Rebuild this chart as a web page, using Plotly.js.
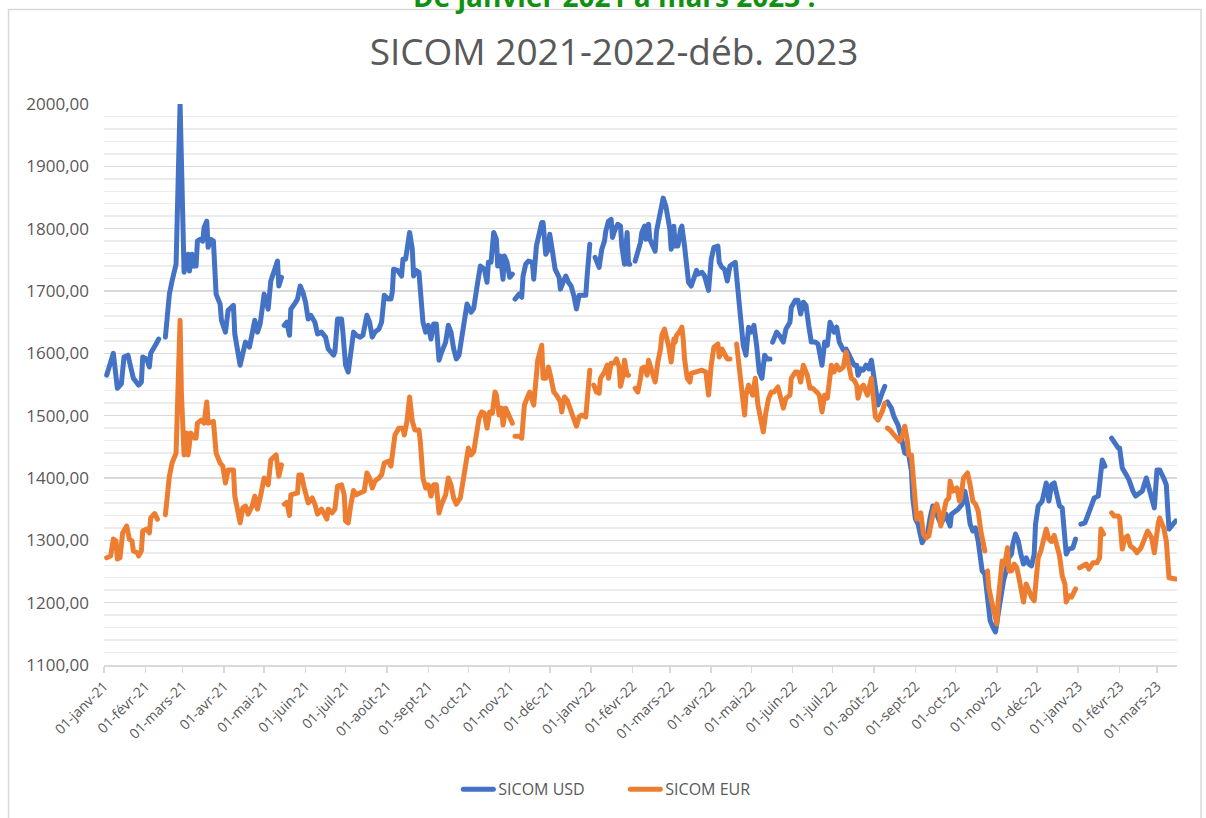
<!DOCTYPE html>
<html><head><meta charset="utf-8">
<script src="https://cdn.plot.ly/plotly-3.0.1.min.js"></script>
<style>html,body{margin:0;padding:0;background:#fff;} #chart{width:1206px;height:818px;} .js-line{stroke-linejoin:round;stroke-linecap:round;}</style>
</head><body><div id="chart"></div>
<script>
// Day offsets are counted from 2021-01-01; null = missing quote (gap in the line)
const startDate = [2021, 0, 1];

const usdSeries = [
[2,1565],[7,1600],[10,1544],[13,1551],[15,1594],[18,1597],[20,1578],[22,1560],[26,1549],[28,1554],[29,1594],[32,1591],[34,1578],[35,1600],[39,1615],[41,1623],[43,null],
[46,1626],[49,1695],[51,1716],[54,1743],[57,2000],[58,1880],[60,1730],[63,1759],[64,1732],[66,1759],[67,1740],[69,1740],[70,1780],[72,1783],[74,1780],[75,1802],[77,1812],[78,1770],[80,1783],[82,1780],[84,1695],[87,1679],[88,1653],[91,1634],[93,1669],[97,1677],[98,1631],[102,1581],[104,1605],[106,1618],[109,1610],[111,1631],[113,1653],[115,1634],[117,1647],[120,1695],[123,1671],[125,1716],[130,1748],[131,1708],[133,1722],[134,null],
[135,1645],[137,1650],[139,1629],[140,1671],[143,1680],[145,1687],[147,1708],[149,1698],[151,1682],[153,1655],[155,1661],[158,1650],[160,1631],[163,1634],[166,1626],[168,1607],[172,1597],[173,1602],[175,1655],[178,1655],[179,1634],[181,1581],[183,1570],[185,1597],[187,1634],[189,1629],[192,1626],[194,1629],[197,1661],[199,1650],[201,1626],[203,1634],[206,1639],[208,1650],[210,1693],[213,1687],[215,1687],[216,1698],[217,1735],[220,1733],[223,1724],[224,1751],[226,1751],[229,1794],[231,1767],[232,1724],[234,1733],[236,1730],[237,1708],[239,1650],[241,1634],[243,1645],[245,1623],[247,1647],[249,1647],[251,1589],[253,1602],[256,1618],[258,1645],[260,1634],[262,1607],[264,1591],[266,1597],[268,1629],[270,1661],[272,1679],[275,1666],[277,1672],[280,1714],[282,1740],[285,1735],[287,1714],[288,1746],[290,1746],[292,1794],[294,1783],[295,1740],[297,1756],[299,1719],[300,1756],[302,1746],[304,1722],[306,1727],[307,null],
[308,1687],[311,1695],[313,1690],[314,1724],[316,1743],[318,1748],[321,1746],[322,1719],[324,1772],[326,1794],[328,1810],[329,1810],[331,1759],[333,1767],[334,1791],[336,1764],[338,1735],[341,1722],[342,1703],[344,1714],[346,1724],[348,1714],[350,1708],[352,1693],[354,1671],[356,1693],[358,1693],[361,1693],[362,1724],[364,1775],[365,null],
[368,1754],[370,1746],[371,1738],[373,1767],[375,1780],[376,1796],[378,1812],[380,1815],[381,1786],[383,1799],[385,1807],[387,1804],[388,1772],[390,1743],[392,1794],[393,1743],[394,1743],[396,null],
[398,1748],[400,1762],[402,1778],[403,1794],[405,1804],[406,1783],[408,1807],[409,1783],[411,1775],[413,1764],[414,1796],[416,1815],[418,1836],[419,1849],[421,1836],[422,1820],[424,1799],[425,1767],[427,1804],[428,1772],[430,1772],[432,1799],[433,1804],[435,1772],[436,1746],[438,1714],[440,1708],[442,1724],[444,1733],[445,1727],[448,1730],[450,1724],[453,1701],[455,1751],[457,1770],[460,1772],[461,1746],[463,1738],[465,1735],[467,1716],[469,1740],[473,1746],[475,1703],[477,1650],[479,1613],[481,1597],[483,1642],[485,1634],[487,1645],[489,1613],[491,1570],[493,1560],[495,1597],[497,1591],[499,1591],[500,null],
[501,1618],[504,1634],[506,1629],[509,1618],[511,1639],[514,1650],[515,1674],[518,1685],[520,1685],[522,1663],[524,1682],[526,1677],[528,1645],[530,1618],[533,1618],[535,1615],[538,1581],[540,1618],[542,1613],[544,1650],[545,1645],[547,1634],[549,1642],[551,1618],[554,1605],[556,1607],[558,1599],[560,1591],[562,1581],[564,1581],[565,1565],[567,1575],[569,1573],[571,1581],[573,1575],[575,1589],[577,1560],[579,1530],[580,1517],[583,1536],[585,1547],[586,null],
[587,1522],[590,1512],[592,1498],[595,1485],[597,1469],[600,1440],[603,1437],[605,1411],[606,1368],[608,1334],[610,1326],[611,1315],[613,1296],[615,1304],[617,1310],[619,1336],[621,1355],[623,1347],[625,1334],[627,1326],[629,1334],[631,1342],[632,1334],[634,1323],[635,1342],[638,1347],[640,1350],[643,1358],[645,1379],[647,1358],[649,1326],[651,1315],[653,1320],[655,1299],[656,1278],[658,1251],[660,1246],[661,1230],[663,1198],[664,1171],[666,1161],[668,1153],[670,1182],[672,1214],[674,1235],[676,1251],[678,1272],[680,1278],[681,1294],[683,1310],[685,1299],[687,1278],[689,1262],[691,1272],[693,1262],[695,1259],[697,1278],[698,1326],[700,1355],[703,1363],[705,1379],[706,1392],[708,1363],[710,1389],[712,1392],[714,1370],[716,1355],[718,1352],[719,1320],[721,1278],[723,1286],[726,1288],[728,1302],[730,null],
[732,1326],[735,1328],[737,1339],[740,1358],[742,1368],[745,1371],[747,1411],[748,1429],[750,1419],[752,null],
[755,1464],[757,1456],[760,1448],[761,1448],[763,1416],[766,1405],[768,1397],[771,1379],[773,1371],[776,1376],[778,1379],[781,1400],[783,1384],[786,1358],[787,1352],[789,1413],[791,1413],[794,1400],[796,1389],[797,1352],[798,1318],[801,1326],[803,1331]
];

const eurSeries = [
[2,1272],[5,1275],[7,1302],[9,1299],[10,1270],[12,1272],[14,1312],[17,1323],[19,1302],[21,1299],[22,1283],[25,1280],[26,1275],[28,1283],[29,1315],[32,1318],[34,1312],[35,1336],[38,1343],[40,1334],[43,null],
[46,1341],[49,1403],[51,1424],[54,1440],[57,1653],[58,1536],[60,1437],[62,1472],[63,1437],[65,1472],[68,1464],[69,1464],[70,1488],[73,1493],[75,1488],[77,1522],[78,1488],[82,1491],[84,1440],[87,1424],[89,1419],[91,1392],[93,1413],[97,1413],[98,1371],[102,1328],[104,1352],[106,1355],[108,1342],[111,1355],[113,1371],[115,1350],[117,1368],[120,1400],[123,1389],[125,1429],[129,1437],[131,1403],[133,1421],[134,null],
[135,1358],[137,1361],[139,1340],[140,1373],[143,1375],[145,1376],[146,1405],[148,1405],[150,1384],[151,1376],[153,1360],[156,1368],[158,1358],[160,1342],[163,1350],[165,1342],[167,1334],[168,1350],[171,1344],[173,1350],[175,1387],[178,1389],[180,1373],[181,1331],[183,1328],[185,1358],[187,1380],[189,1373],[193,1376],[195,1379],[197,1408],[199,1400],[201,1384],[203,1395],[206,1400],[208,1405],[210,1424],[213,1427],[215,1419],[216,1432],[218,1469],[221,1480],[224,1480],[225,1469],[227,1491],[229,1530],[231,1491],[233,1477],[236,1477],[237,1459],[239,1400],[241,1384],[243,1389],[245,1371],[247,1389],[249,1389],[251,1344],[253,1358],[256,1373],[258,1400],[260,1389],[262,1368],[264,1358],[267,1368],[269,1400],[271,1421],[273,1448],[275,1437],[277,1442],[281,1496],[283,1506],[285,1504],[287,1480],[289,1506],[291,1504],[293,1538],[294,1533],[296,1501],[298,1512],[299,1485],[301,1512],[303,1501],[305,1491],[306,1488],[307,null],
[308,1467],[311,1467],[313,1464],[315,1517],[317,1528],[319,1538],[322,1517],[324,1565],[325,1589],[328,1613],[329,1560],[331,1560],[333,1578],[335,1560],[337,1538],[339,1533],[342,1522],[343,1506],[345,1530],[347,1525],[349,1512],[352,1496],[354,1483],[356,1498],[358,1501],[361,1498],[363,1538],[364,1573],[365,null],
[367,1549],[369,1538],[371,1536],[372,1560],[375,1570],[377,1581],[378,1560],[380,1584],[382,1584],[384,1591],[386,1578],[387,1547],[389,1565],[390,1589],[392,1565],[393,1565],[396,null],
[398,1544],[400,1538],[402,1560],[403,1576],[405,1578],[407,1565],[408,1589],[410,1573],[411,1570],[413,1554],[415,1586],[417,1607],[418,1629],[420,1639],[421,1629],[423,1613],[425,1586],[427,1623],[428,1618],[429,1629],[431,1634],[433,1642],[434,1623],[435,1591],[437,1560],[439,1554],[440,1568],[443,1570],[446,1573],[448,1573],[451,1570],[453,1533],[455,1581],[457,1610],[460,1615],[461,1594],[463,1607],[465,1597],[467,1591],[469,1591],[471,null],
[474,1615],[476,1581],[478,1533],[480,1501],[481,1533],[483,1549],[486,1533],[488,1560],[490,1517],[492,1491],[494,1474],[496,1506],[498,1528],[500,1538],[502,1538],[505,1546],[506,1538],[509,1512],[511,1528],[514,1533],[515,1560],[518,1570],[520,1570],[522,1554],[524,1581],[527,1565],[529,1544],[531,1544],[534,1538],[536,1533],[538,1506],[540,1533],[542,1528],[544,1565],[545,1581],[547,1570],[549,1581],[551,1573],[554,1578],[556,1602],[558,1581],[560,1560],[562,1557],[564,1549],[565,1528],[567,1544],[569,1549],[572,1533],[575,1560],[577,1528],[578,1498],[580,1493],[583,1506],[585,1520],[586,null],
[587,1480],[589,1477],[592,1469],[594,1464],[596,1459],[598,1467],[600,1483],[602,1459],[603,1437],[605,1437],[607,1384],[609,1334],[611,1342],[612,1344],[614,1310],[616,1304],[618,1307],[620,1326],[622,1352],[624,1358],[626,1342],[627,1323],[629,1347],[631,1363],[633,1368],[634,1395],[636,1379],[639,1384],[641,1363],[642,1368],[644,1400],[647,1408],[649,1389],[651,1363],[653,1358],[655,1347],[657,1315],[660,1283],[661,null],
[662,1251],[663,1224],[665,1203],[667,1187],[669,1166],[670,1203],[672,1240],[673,1267],[675,1262],[677,1288],[678,1251],[680,1251],[682,1262],[684,1256],[686,1235],[687,1219],[689,1201],[691,1230],[692,1224],[695,1209],[697,1203],[698,1235],[700,1272],[702,1283],[704,1304],[706,1318],[708,1302],[710,1298],[712,1308],[714,1294],[716,1275],[718,1243],[720,1230],[721,1201],[723,1211],[725,1209],[728,1222],[730,null],
[731,1256],[733,1259],[736,1262],[738,1254],[741,1264],[744,1264],[746,1272],[747,1318],[749,1310],[752,null],
[755,1344],[757,1339],[760,1339],[761,1336],[763,1286],[765,1304],[767,1307],[769,1291],[772,1286],[774,1280],[777,1288],[780,1302],[782,1315],[785,1304],[787,1280],[790,1328],[791,1336],[794,1320],[796,1299],[798,1240],[801,1238],[803,1238]
];

const tickDates = ['2021-01-01','2021-02-01','2021-03-01','2021-04-01','2021-05-01','2021-06-01','2021-07-01','2021-08-01','2021-09-01','2021-10-01','2021-11-01','2021-12-01',
'2022-01-01','2022-02-01','2022-03-01','2022-04-01','2022-05-01','2022-06-01','2022-07-01','2022-08-01','2022-09-01','2022-10-01','2022-11-01','2022-12-01',
'2023-01-01','2023-02-01','2023-03-01'];
const tickLabels = ['01-janv-21','01-févr-21','01-mars-21','01-avr-21','01-mai-21','01-juin-21','01-juil-21','01-août-21','01-sept-21','01-oct-21','01-nov-21','01-déc-21',
'01-janv-22','01-févr-22','01-mars-22','01-avr-22','01-mai-22','01-juin-22','01-juil-22','01-août-22','01-sept-22','01-oct-22','01-nov-22','01-déc-22',
'01-janv-23','01-févr-23','01-mars-23'];

const seriesNames = ['SICOM USD', 'SICOM EUR'];
const chartTitle = 'SICOM 2021-2022-déb. 2023';
const headline = 'De janvier 2021 à mars 2023 !';

function dayToDate(d) {
  const t = Date.UTC(startDate[0], startDate[1], startDate[2]) + d * 86400000;
  return new Date(t).toISOString().slice(0, 10);
}

const FONT = '"Open Sans", "Noto Sans", sans-serif';
const GREY = '#595959';
// layout geometry in px
const W = 1206, H = 818, ML = 103.5, MR = 29, MT = 104, MB = 150;
const PW = W - ML - MR, PH = H - MT - MB;
const px2x = p => (p - ML) / PW;
const py2y = p => (H - MB - p) / PH;

const traces = [
  { x: usdSeries.map(p => dayToDate(p[0])), y: usdSeries.map(p => p[1]), name: seriesNames[0],
    type: 'scatter', mode: 'lines', connectgaps: false, line: { color: '#4472C4', width: 5 } },
  { x: eurSeries.map(p => dayToDate(p[0])), y: eurSeries.map(p => p[1]), name: seriesNames[1],
    type: 'scatter', mode: 'lines', connectgaps: false, line: { color: '#ED7D31', width: 5 } }
];

const layout = {
  width: W, height: H,
  margin: { l: ML, r: MR, t: MT, b: MB, pad: 0 },
  paper_bgcolor: '#ffffff', plot_bgcolor: '#ffffff',
  separators: ', ',
  font: { family: FONT, color: GREY },
  title: { text: chartTitle, font: { family: FONT, size: 37, color: GREY },
           x: 614 / W, xref: 'container', xanchor: 'center', y: 1 - 52 / H, yref: 'container', yanchor: 'middle' },
  xaxis: {
    type: 'date', range: ['2021-01-01', '2023-03-16'],
    tickmode: 'array', tickvals: tickDates, ticktext: tickLabels, tickangle: -45,
    tickfont: { family: FONT, size: 14, color: GREY },
    ticks: 'outside', ticklen: 6, tickcolor: '#d9d9d9', tickwidth: 1.5,
    showline: true, linecolor: '#d9d9d9', linewidth: 1.5,
    showgrid: false, zeroline: false, fixedrange: true
  },
  yaxis: {
    range: [1100, 2000], dtick: 100, tick0: 1100, tickformat: '.2f',
    tickfont: { family: FONT, size: 17, color: GREY },
    ticks: '', ticklabelstandoff: 14,
    showgrid: true, gridcolor: '#d9d9d9', gridwidth: 1.5,
    minor: { dtick: 20, showgrid: true, gridcolor: '#ececec', gridwidth: 1.5 },
    zeroline: false, showline: false, fixedrange: true
  },
  showlegend: true,
  legend: {
    orientation: 'h', xanchor: 'left', x: px2x(458), yanchor: 'middle', y: py2y(793),
    font: { family: FONT, size: 16, color: GREY }, entrywidth: 122, entrywidthmode: 'pixels',
    bgcolor: 'rgba(0,0,0,0)'
  },
  annotations: [
    { text: '<b>' + headline + '</b>', xref: 'paper', yref: 'paper', x: px2x(614), y: py2y(-5),
      xanchor: 'center', yanchor: 'middle', showarrow: false,
      font: { family: FONT, size: 28, color: '#119011' } }
  ],
  shapes: [
    { type: 'rect', xref: 'paper', yref: 'paper', x0: px2x(8), x1: px2x(1201), y0: py2y(840), y1: py2y(9),
      line: { color: '#d9d9d9', width: 1.5 }, fillcolor: 'rgba(0,0,0,0)', layer: 'below' }
  ]
};

Plotly.newPlot('chart', traces, layout, { staticPlot: true, displayModeBar: false });
</script>
</body></html>
